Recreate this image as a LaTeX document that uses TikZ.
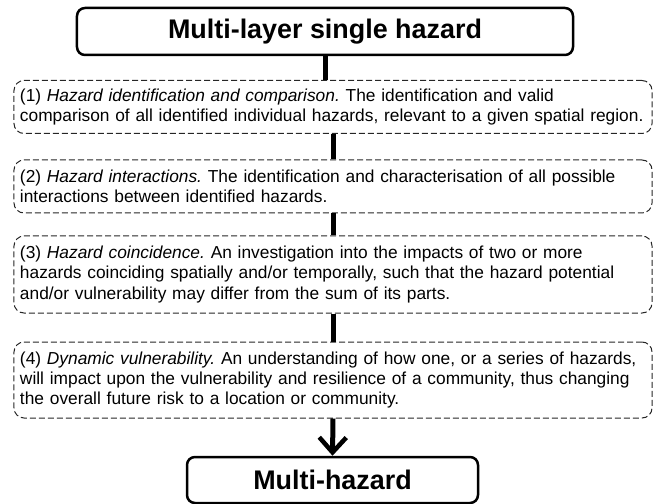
\documentclass[tikz,border=0pt]{standalone}
\usepackage{fontspec}
\setmainfont{Liberation Sans}
\usetikzlibrary{arrows.meta}
\frenchspacing
\tikzset{
  titlebox/.style={draw, line width=2.5bp, rounded corners=8bp, font=\fontsize{27}{30}\selectfont\bfseries, inner sep=0pt},
  stagebox/.style={draw=black!85, dash pattern=on 6bp off 3bp, line width=1bp, rounded corners=10bp,
    minimum width=638bp, text width=626bp, align=left, inner xsep=6bp, inner ysep=0pt,
    font=\fontsize{17.4}{20.5}\selectfont},
  link/.style={line width=5bp},
}
\begin{document}
\begin{tikzpicture}[x=1bp,y=-1bp]
\useasboundingbox (0,0) rectangle (654,504);
\node[titlebox, minimum width=496bp, minimum height=47bp] (top) at (325,31.5) {Multi-layer single hazard};
\node[stagebox, minimum height=53bp] (b1) at (333,107) {(1) \textit{Hazard identification and comparison.} The identification and valid\\comparison of all identified individual hazards, relevant to a given spatial region.};
\node[stagebox, minimum height=53bp] (b2) at (333,186.5) {(2) \textit{Hazard interactions.} The identification and characterisation of all possible\\interactions between identified hazards.};
\node[stagebox, minimum height=77bp] (b3) at (333,274.5) {(3) \textit{Hazard coincidence.} An investigation into the impacts of two or more\\hazards coinciding spatially and/or temporally, such that the hazard potential\\and/or vulnerability may differ from the sum of its parts.};
\node[stagebox, minimum height=76bp] (b4) at (333,380) {(4) \textit{Dynamic vulnerability.} An understanding of how one, or a series of hazards,\\will impact upon the vulnerability and resilience of a community, thus changing\\the overall future risk to a location or community.};
\node[titlebox, minimum width=291bp, minimum height=46bp] (bot) at (332.5,480) {Multi-hazard};
\draw[link] (top.south) -- (top.south |- b1.north);
\draw[link] (b1.south) -- (b2.north);
\draw[link] (b2.south) -- (b3.north);
\draw[link] (b3.south) -- (b4.north);
\draw[link, -{Straight Barb[length=15bp, width=27bp, line width=4.5bp]}] (b4.south) -- (bot.north);
\end{tikzpicture}
\end{document}
